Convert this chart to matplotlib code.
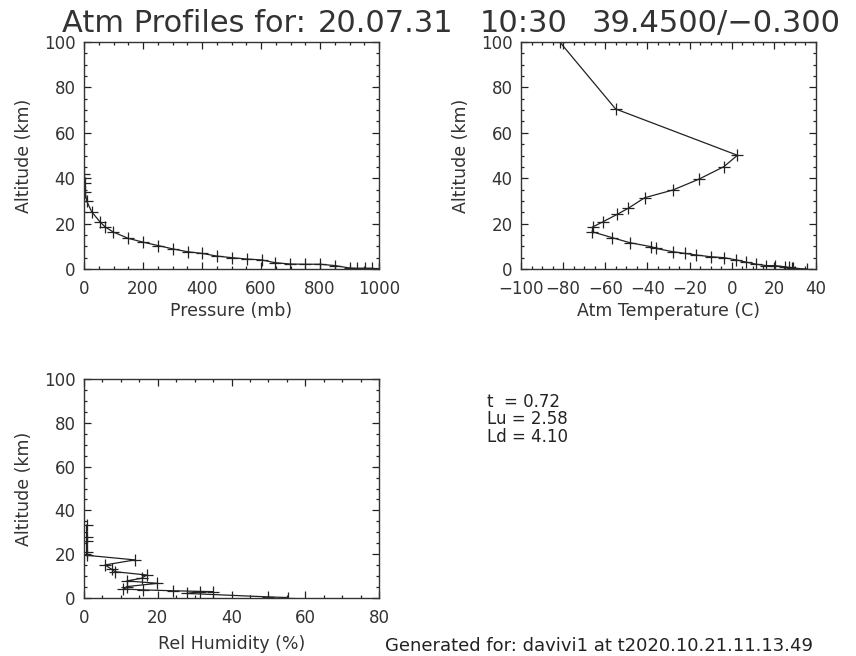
import matplotlib
matplotlib.use("Agg")
import matplotlib.pyplot as plt
from matplotlib.ticker import MultipleLocator

# ---- data ----
pres_mb = [1000, 975, 953, 924, 902, 851, 800, 749, 698, 647, 602, 551, 500, 450,
           399, 351, 303, 252, 201, 150, 99, 71, 54, 26, 9, 4, 2, 1]
pres_alt = [0.0, 0.3, 0.3, 0.3, 0.4, 1.5, 2.1, 2.1, 2.2, 2.8, 4.0, 4.4, 5.0, 5.7,
            6.9, 7.6, 8.8, 10.3, 11.8, 13.5, 16.3, 18.6, 20.8, 25.2, 30.0, 34.0, 38.0, 42.0]

temp_c = [-81.6, -55.1, 2.7, -3.7, -15.5, -27.9, -41.3, -49.2, -54.3, -61.1, -65.8,
          -66.2, -56.7, -48.4, -38.1, -36.1, -27.9, -22.3, -17.1, -10.0, -3.7, 2.2,
          6.9, 11.7, 16.4, 20.4, 25.1, 27.0, 28.5, 29.1, 35.6]
temp_alt = [100.0, 70.5, 50.1, 45.1, 39.6, 34.8, 31.4, 26.7, 24.1, 20.8, 18.6,
            16.4, 13.8, 11.6, 9.8, 9.1, 7.6, 6.9, 6.2, 5.4, 5.0, 4.0,
            3.0, 2.1, 1.5, 1.5, 1.0, 0.7, 0.5, 0.3, 0.0]

rh_pct = [0.7, 0.7, 0.7, 0.7, 0.7, 13.8, 5.7, 7.5, 8.4, 17.0, 15.6, 11.6, 19.9,
          11.6, 10.7, 16.1, 24.2, 35.1, 31.5, 27.8, 50.0, 55.4]
rh_alt = [33.3, 28.0, 26.0, 21.1, 19.5, 17.4, 15.1, 13.1, 12.0, 10.5, 9.0, 7.8, 6.7,
          5.2, 4.1, 3.7, 3.3, 2.9, 2.9, 2.1, 0.5, 0.2]

title_parts = ["Atm Profiles for:", "20.07.31", "10:30", "39.4500/\u22120.300"]
title_x_px = [62, 318, 480, 592]
info_lines = ["t  = 0.72", "Lu = 2.58", "Ld = 4.10"]
footer = "Generated for: davivi1 at t2020.10.21.11.13.49"

plt.rcParams['font.family'] = ['DejaVu Sans']
plt.rcParams['axes.unicode_minus'] = True

W, H = 856, 656
fig = plt.figure(figsize=(W / 100, H / 100), dpi=100)
fig.patch.set_facecolor('white')

TXT = '#333333'

def ax_at(x0, y0, x1, y1):
    return fig.add_axes([x0 / W, 1 - y1 / H, (x1 - x0) / W, (y1 - y0) / H])

def style(ax, xmaj, xmin):
    ax.xaxis.set_major_locator(MultipleLocator(xmaj))
    ax.xaxis.set_minor_locator(MultipleLocator(xmin))
    ax.yaxis.set_major_locator(MultipleLocator(20))
    ax.yaxis.set_minor_locator(MultipleLocator(5))
    ax.tick_params(which='both', direction='in', top=True, right=True,
                   colors='#222222', labelcolor=TXT, labelsize=12)
    ax.tick_params(which='major', length=5, width=0.9, pad=6)
    ax.tick_params(which='minor', length=2.5, width=0.9)
    ax.tick_params(axis='x', pad=8)
    for s in ax.spines.values():
        s.set_linewidth(1.0)
        s.set_color('#333333')
    ax.set_ylim(0, 100)

kw = dict(color='#222222', lw=0.9, marker='+', ms=9, mew=0.9)

ax1 = ax_at(84, 42, 379, 269)
ax1.plot(pres_mb, pres_alt, **kw)
ax1.set_xlim(0, 1000)
style(ax1, 200, 50)
ax1.set_xlabel("Pressure (mb)", fontsize=12.5, color=TXT)
ax1.set_ylabel("Altitude (km)", fontsize=12.5, color=TXT)

ax2 = ax_at(521, 42, 816, 269)
ax2.plot(temp_c, temp_alt, **kw)
ax2.set_xlim(-100, 40)
style(ax2, 20, 5)
ax2.set_xlabel("Atm Temperature (C)", fontsize=12.5, color=TXT)
ax2.set_ylabel("Altitude (km)", fontsize=12.5, color=TXT)

ax3 = ax_at(84, 379, 379, 598)
ax3.plot(rh_pct, rh_alt, **kw)
ax3.set_xlim(0, 80)
style(ax3, 20, 5)
ax3.set_xlabel("Rel Humidity (%)", fontsize=12.5, color=TXT)
ax3.set_ylabel("Altitude (km)", fontsize=12.5, color=TXT)

for ax in (ax1, ax2):
    ax.yaxis.set_label_coords(-(84 - 24) / 295, 0.5)
    ax.xaxis.set_label_coords(0.5, -(311 - 269) / 227)
ax3.yaxis.set_label_coords(-(84 - 24) / 295, 0.5)
ax3.xaxis.set_label_coords(0.5, -(644 - 598) / 219)
for ax in (ax1, ax2, ax3):
    ax.xaxis.label.set_va('center')
    ax.yaxis.label.set_va('center')

for part, xp in zip(title_parts, title_x_px):
    fig.text(xp / W, 1 - 32 / H, part, fontsize=22, color=TXT,
             ha='left', va='baseline')

for i, line in enumerate(info_lines):
    fig.text(487 / W, 1 - (402 + i * 17.5) / H, line, fontsize=12,
             color='#222222', ha='left', va='center')

fig.text(385 / W, 1 - 646 / H, footer, fontsize=13, color='#222222',
         ha='left', va='center')

fig.savefig("out.png", dpi=100, facecolor='white')
